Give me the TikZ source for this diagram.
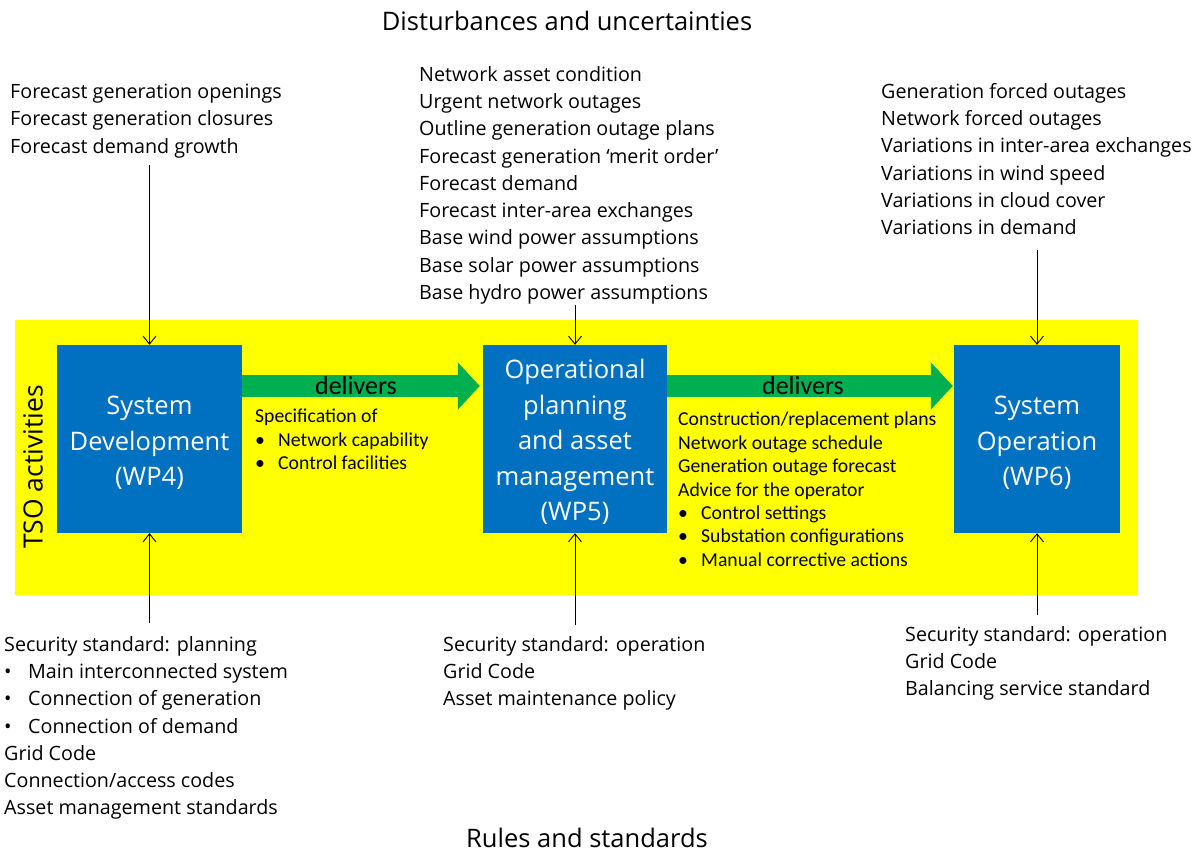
\documentclass[tikz,border=0pt]{standalone}
\usepackage{fontspec}
\setmainfont{Open Sans}
\newfontfamily\calfont{Carlito}
\usetikzlibrary{arrows.meta}
\definecolor{ylw}{HTML}{FFFF00}
\definecolor{boxblue}{HTML}{0070C0}
\definecolor{grn}{HTML}{00B050}
\begin{document}
\begin{tikzpicture}[x=1pt,y=-1pt,
  wp/.style={fill=boxblue, minimum height=188pt, inner sep=0},
  wptext/.style={text=white, inner sep=0, align=center,
    font=\fontsize{25.5}{35.5}\selectfont},
  lst/.style={anchor=north west, inner sep=0, align=left, font=\fontsize{19.7}{27.3}\selectfont},
  ylst/.style={anchor=north west, inner sep=0, align=left, font=\calfont\fontsize{19.7}{23.4}\selectfont},
  feed/.style={draw=black, line width=0.9pt, -{Straight Barb[length=8pt,width=13pt]}},
  deliv/.style={draw=grn, line width=22pt, -{Triangle[length=22pt,width=46pt]}},
  title/.style={font=\fontsize{25.5}{30}\selectfont, inner sep=0},
  dlab/.style={font=\calfont\fontsize{26}{30}\selectfont, inner sep=0}
]
\useasboundingbox (0,0) rectangle (1194,854);

% yellow TSO area
\node[fill=ylw, minimum width=1123pt, minimum height=275pt, inner sep=0] (tso) at (576.5,457.5) {};
\node[rotate=90, font=\fontsize{26.5}{30}\selectfont, inner sep=0] (tsolab) at (33,467) {TSO activities};

% boxes
\node[wp, minimum width=185pt] (b1) at (149.5,439) {};
\node[wp, minimum width=184pt] (b2) at (575,439) {};
\node[wp, minimum width=166pt] (b3) at (1037,439) {};
\node[wptext] (b1t) at ([yshift=-4pt]b1.center) {System\\Development\\(WP4)};
\node[wptext] (b2t) at ([yshift=-3pt]b2.center) {Operational\\planning\\and asset\\management\\(WP5)};
\node[wptext] (b3t) at ([yshift=-4pt]b3.center) {System\\Operation\\(WP6)};

% green delivers arrows
\draw[deliv, shorten >=3pt] ([yshift=53pt]b1.east) -- ([yshift=53pt]b2.west);
\draw[deliv, shorten >=1pt] ([yshift=53pt]b2.east) -- ([yshift=53pt]b3.west);
\node[dlab] (d1) at (356,386) {delivers};
\node[dlab] (d2) at (803,386) {delivers};

% texts in yellow
\node[ylst] (spec) at (255,409) {Specification of\\
  \makebox[23pt][l]{•}Network capability\\
  \makebox[23pt][l]{•}Control facilities};
\node[ylst] (cons) at (678,412) {Construction/replacement plans\\
  Network outage schedule\\
  Generation outage forecast\\
  Advice for the operator\\
  \makebox[23pt][l]{•}Control settings\\
  \makebox[23pt][l]{•}Substation configurations\\
  \makebox[23pt][l]{•}Manual corrective actions};

% titles
\node[title] (dist) at (567,21) {Disturbances and uncertainties};
\node[title] (rules) at (587,838) {Rules and standards};

% disturbance lists
\node[lst] (tl) at (10,84) {Forecast generation openings\\Forecast generation closures\\Forecast demand growth};
\node[lst] (tm) at (419,66) {Network asset condition\\Urgent network outages\\Outline generation outage plans\\Forecast generation ‘merit order’\\Forecast demand\\Forecast inter-area exchanges\\Base wind power assumptions\\Base solar power assumptions\\Base hydro power assumptions};
\node[lst] (tr) at (881,83) {Generation forced outages\\Network forced outages\\Variations in inter-area exchanges\\Variations in wind speed\\Variations in cloud cover\\Variations in demand};

% rules lists
\node[lst] (bl) at (4,636) {Security standard: planning\\
  \makebox[24pt][l]{•}Main interconnected system\\
  \makebox[24pt][l]{•}Connection of generation\\
  \makebox[24pt][l]{•}Connection of demand\\
  Grid Code\\Connection/access codes\\Asset management standards};
\node[lst] (bm) at (443,636) {Security standard: operation\\Grid Code\\Asset maintenance policy};
\node[lst] (br) at (905,626) {Security standard: operation\\Grid Code\\Balancing service standard};

% feed arrows
\coordinate (i1) at (149.5,165);
\coordinate (i2) at (575,305);
\coordinate (i3) at (1037,250);
\coordinate (s1) at (149.5,623);
\coordinate (s2) at (575,625);
\coordinate (s3) at (1037,615);
\draw[feed] (i1) -- (b1.north);
\draw[feed] (i2) -- (b2.north);
\draw[feed] (i3) -- (b3.north);
\draw[feed] (s1) -- (b1.south);
\draw[feed] (s2) -- (b2.south);
\draw[feed] (s3) -- (b3.south);
\end{tikzpicture}
\end{document}
